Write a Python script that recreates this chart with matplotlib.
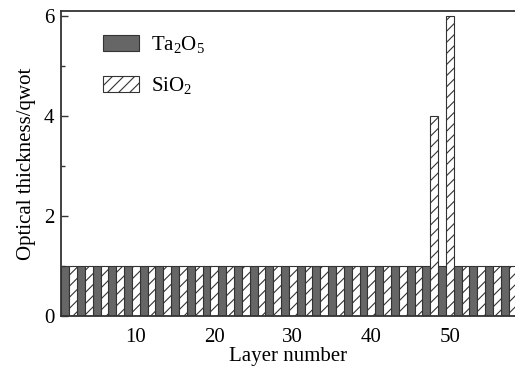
import matplotlib.pyplot as plt
import numpy as np

plt.rcParams["font.family"] = ["Liberation Serif", "DejaVu Serif"]
plt.rcParams["mathtext.fontset"] = "custom"
plt.rcParams["mathtext.rm"] = "Liberation Serif"
plt.rcParams["mathtext.it"] = "Liberation Serif"
plt.rcParams["hatch.color"] = "#444444"
plt.rcParams["hatch.linewidth"] = 0.8

# layer stack: odd layers Ta2O5, even layers SiO2 (thickness in QWOT)
ta_layers = list(range(1, 59, 2))
ta_thick = [1] * len(ta_layers)
si_layers = list(range(2, 59, 2))
si_thick = [1] * len(si_layers)
si_thick[si_layers.index(48)] = 4
si_thick[si_layers.index(50)] = 6

x_ticks = [10, 20, 30, 40, 50]
y_ticks = [0, 2, 4, 6]

fig = plt.figure(figsize=(5.15, 3.69), dpi=100)
ax = fig.add_axes([0.119, 0.144, 0.881, 0.826])

edge = "#333333"
ax.bar(ta_layers, ta_thick, width=1.0, color="#666666", edgecolor=edge,
       linewidth=0.8, label="Ta$_2$O$_5$")
ax.bar(si_layers, si_thick, width=1.0, color="white", edgecolor=edge,
       linewidth=0.8, hatch="///", label="SiO$_2$")

ax.set_xlim(0.5, 58.3)
ax.set_ylim(0, 6.1)
ax.set_xticks(x_ticks)
ax.set_yticks(y_ticks)
ax.set_yticks([1, 3, 5], minor=True)
ax.tick_params(axis="x", length=0, labelsize=15, pad=9)
ax.tick_params(axis="y", direction="in", length=5, width=1, labelsize=15,
               color=edge, pad=5)
ax.tick_params(axis="y", which="minor", direction="in", length=3, width=1,
               color=edge)

for side in ("left", "top", "bottom"):
    ax.spines[side].set_color(edge)
    ax.spines[side].set_linewidth(1.3)
ax.spines["right"].set_visible(False)

ax.set_xlabel("Layer number", fontsize=15, labelpad=0)
ax.set_ylabel("Optical thickness/qwot", fontsize=15, labelpad=6)

ax.legend(loc="upper left", bbox_to_anchor=(0.05, 0.985), frameon=False,
          fontsize=15, handlelength=1.75, handleheight=0.75,
          labelspacing=0.95, handletextpad=0.55)

fig.savefig("out.png", dpi=100)
